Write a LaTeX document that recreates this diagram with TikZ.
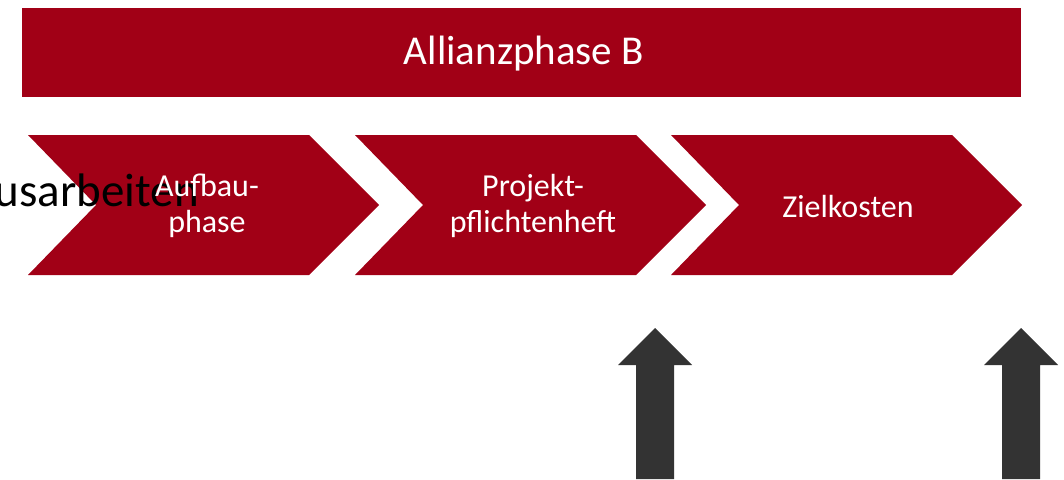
\documentclass[tikz,border=0pt]{standalone}
\usepackage{fontspec}
\setmainfont{Carlito}
\definecolor{alliancered}{HTML}{A10016}
\definecolor{arrowgray}{HTML}{333333}
\begin{document}
\begin{tikzpicture}[x=1pt,y=-1pt,
  banner/.style={fill=alliancered,draw=none},
  chevron/.style={fill=alliancered,draw=none},
  steplabel/.style={text=white,align=center,font=\fontsize{32}{36}\selectfont,inner sep=0pt},
  uparrow/.style={fill=arrowgray,draw=none}]
\useasboundingbox (0,0) rectangle (1064,479);

% top banner
\fill[banner] (22,8) rectangle (1021,97);
\node[text=white,font=\fontsize{41}{45}\selectfont,anchor=base] (title) at (524,64) {Allianzphase B};

% process chevrons: left edge x, notch depth 68, length 351, top 135, bottom 275
\foreach \x/\name in {28/c1,355/c2,671/c3}{
  \fill[chevron] (\x,135) -- (\x+281,135) -- (\x+351,205) -- (\x+281,275)
     -- (\x,275) -- (\x+68,205) -- cycle;
  \coordinate (\name) at (\x+177,205);
}

% overflowing black text at the left edge
\node[anchor=base east,font=\fontsize{47}{50}\selectfont,inner sep=0pt] (work) at (199,206) {usarbeiten};

\node[steplabel] (s1) at ([xshift=2pt,yshift=-1pt]c1) {Aufbau-\\phase};
\node[steplabel] (s2) at ([xshift=1pt,yshift=-1pt]c2) {Projekt-\\pflichtenheft};
\node[steplabel] (s3) at ([xshift=0pt,yshift=-2pt]c3) {Zielkosten};

% upward block arrows
\foreach \cx in {655,1021}{
  \fill[uparrow] (\cx,328) -- (\cx+37,365) -- (\cx+19,365) -- (\cx+19,479)
     -- (\cx-19,479) -- (\cx-19,365) -- (\cx-37,365) -- cycle;
}
\end{tikzpicture}
\end{document}
